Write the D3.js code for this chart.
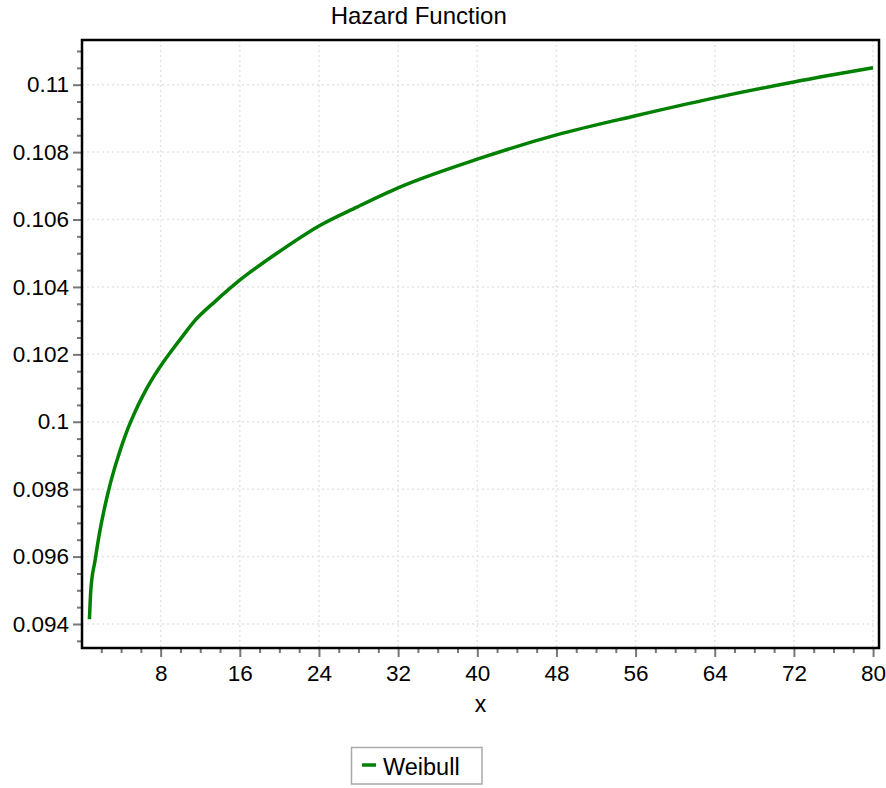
<!DOCTYPE html>
<html><head><meta charset="utf-8">
<script src="https://cdn.jsdelivr.net/npm/d3@7"></script>
<style>body{margin:0;background:#fff;} svg{display:block;font-family:"Liberation Sans",Arial,sans-serif;}</style>
</head><body>
<svg id="c" width="886" height="788"></svg>
<script>
const title = "Hazard Function";
const xLabel = "x";
const seriesName = "Weibull";
const xValues = [0.8,0.94,1.38,1.81,2.62,3.3,3.67,4.1,4.61,5.12,5.45,6.13,6.97,8.15,9.16,10.17,11.52,13.54,15.9,19.75,24,27.84,32,40,48,56,64,72,80];
const yValues = [0.09414,0.095,0.0959,0.09668,0.09782,0.09858,0.09893,0.09932,0.09974,0.1001,0.10032,0.10073,0.10118,0.10172,0.10213,0.10252,0.10302,0.10358,0.10418,0.1050,0.10581,0.10637,0.10694,0.10779,0.10851,0.10908,0.10961,0.11008,0.1105];
const xTicks = [8,16,24,32,40,48,56,64,72,80];
const yTicks = [0.094,0.096,0.098,0.1,0.102,0.104,0.106,0.108,0.11];
const yTickLabels = ["0.094","0.096","0.098","0.1","0.102","0.104","0.106","0.108","0.11"];

const L=82, R=879, T=40, B=648;
const x = d3.scaleLinear().domain([0,80.6]).range([81.5,R]);
const y = d3.scaleLinear().domain([0.093288,0.111326]).range([B,T]);
const svg = d3.select("#c");
const data = xValues.map((v,i)=>[v,yValues[i]]);

// gridlines
const grid = svg.append("g").attr("stroke","#e4e4e4").attr("stroke-width",1.5).attr("stroke-dasharray","2,3");
grid.selectAll("line.v").data(xTicks).join("line").attr("x1",d=>x(d)).attr("x2",d=>x(d)).attr("y1",T).attr("y2",B);
grid.selectAll("line.h").data(yTicks).join("line").attr("y1",d=>y(d)).attr("y2",d=>y(d)).attr("x1",L).attr("x2",R);

// axes
const xMinor = d3.range(2,81,2).filter(v=>v%8!==0);
const yMinor = d3.range(0,37).map(i=>+(0.0935+i*0.0005).toFixed(4)).filter(v=>y(v)>=T && y(v)<=B && Math.abs(v*1000 - Math.round(v*500)*2)>1e-6);

const xAxis = svg.append("g").attr("transform",`translate(0,${B})`)
  .call(d3.axisBottom(x).tickValues(xTicks).tickSize(9).tickPadding(8).tickFormat(d3.format("d")));
const xAxisMinor = svg.append("g").attr("transform",`translate(0,${B})`)
  .call(d3.axisBottom(x).tickValues(xMinor).tickSize(5).tickFormat(""));
const yAxis = svg.append("g").attr("transform",`translate(${L},0)`)
  .call(d3.axisLeft(y).tickValues(yTicks).tickSize(9).tickPadding(4).tickFormat((d,i)=>yTickLabels[i]));
const yAxisMinor = svg.append("g").attr("transform",`translate(${L},0)`)
  .call(d3.axisLeft(y).tickValues(yMinor).tickSize(5).tickFormat(""));
[xAxis,xAxisMinor,yAxis,yAxisMinor].forEach(g=>{
  g.select(".domain").remove();
  g.selectAll(".tick line").attr("stroke","#777").attr("stroke-width",2);
  g.selectAll(".tick text").attr("fill","#000").attr("font-size",22.5).attr("font-family","Liberation Sans, Arial, sans-serif");
});

// frame
svg.append("rect").attr("x",L).attr("y",T).attr("width",R-L).attr("height",B-T)
  .attr("fill","none").attr("stroke","#000").attr("stroke-width",2.5);

// line
svg.append("path").datum(data)
  .attr("fill","none").attr("stroke","#008000").attr("stroke-width",3.5)
  .attr("d",d3.line().x(d=>x(d[0])).y(d=>y(d[1])).curve(d3.curveMonotoneX));

// title
svg.append("text").attr("x",418.7).attr("y",24).attr("text-anchor","middle")
  .attr("font-size",24).attr("fill","#000").text(title);
// x label
svg.append("text").attr("x",(L+R)/2).attr("y",712).attr("text-anchor","middle")
  .attr("font-size",23).attr("fill","#000").text(xLabel);

// legend
const lg = svg.append("g");
lg.append("rect").attr("x",351.5).attr("y",747.5).attr("width",130.5).attr("height",36.5)
  .attr("fill","#fff").attr("stroke","#aaa").attr("stroke-width",1.5);
lg.append("line").attr("x1",362).attr("x2",376).attr("y1",765).attr("y2",765)
  .attr("stroke","#008000").attr("stroke-width",3.5);
lg.append("text").attr("x",383).attr("y",775).attr("font-size",23.5).attr("fill","#000").text(seriesName);
</script>
</body></html>
